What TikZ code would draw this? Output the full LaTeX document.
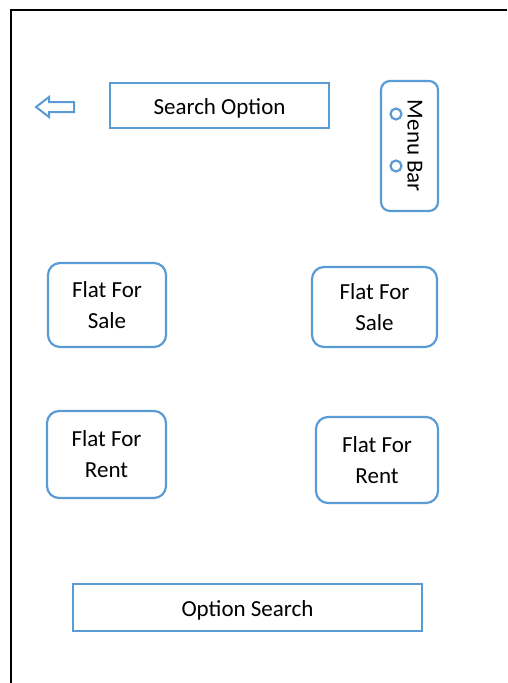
\documentclass[tikz,border=0pt]{standalone}
\usepackage{fontspec}
\setmainfont{Carlito}
\definecolor{boxblue}{HTML}{5B9BD5}

\begin{document}
\begin{tikzpicture}[x=1pt, y=-1pt, font=\fontsize{23}{31}\selectfont,
  box/.style={draw=boxblue, line width=2.2pt, align=center, inner sep=0pt},
  tile/.style={box, rounded corners=12pt}]

\useasboundingbox (0,0) rectangle (507,683);

% frame of the screen
\draw[line width=2pt] (11,683) -- (11,10) -- (507,10);

% back arrow
\draw[boxblue, line width=2pt, line join=miter] (36,107) -- (49,97) -- (49,102) -- (74,102) -- (74,112) -- (49,112) -- (49,117) -- cycle;

\node[box, minimum width=219pt, minimum height=45pt, text height=20pt, text depth=3pt] (search) at (219.5,105.5) {Search Option};

\node[tile, rounded corners=9pt, minimum width=57pt, minimum height=130pt] (menu) at (409.5,146) {};
\node[rotate=-90] (menutext) at (415,146) {Menu Bar};
\draw[boxblue, line width=2.2pt] (396,114) circle (5.5);
\draw[boxblue, line width=2.2pt] (396,166) circle (5.5);

\node[tile, minimum width=118pt, minimum height=84pt] (saleL) at (107,305) {Flat For\\Sale};
\node[tile, minimum width=125pt, minimum height=80pt] (saleR) at (374.5,307) {Flat For\\Sale};
\node[tile, minimum width=119pt, minimum height=87pt] (rentL) at (106.5,454.5) {Flat For\\Rent};
\node[tile, minimum width=122pt, minimum height=86pt] (rentR) at (377,460) {Flat For\\Rent};

\node[box, minimum width=349pt, minimum height=47pt, text height=20pt, text depth=3pt] (option) at (247.5,607.5) {Option Search};

\end{tikzpicture}
\end{document}
